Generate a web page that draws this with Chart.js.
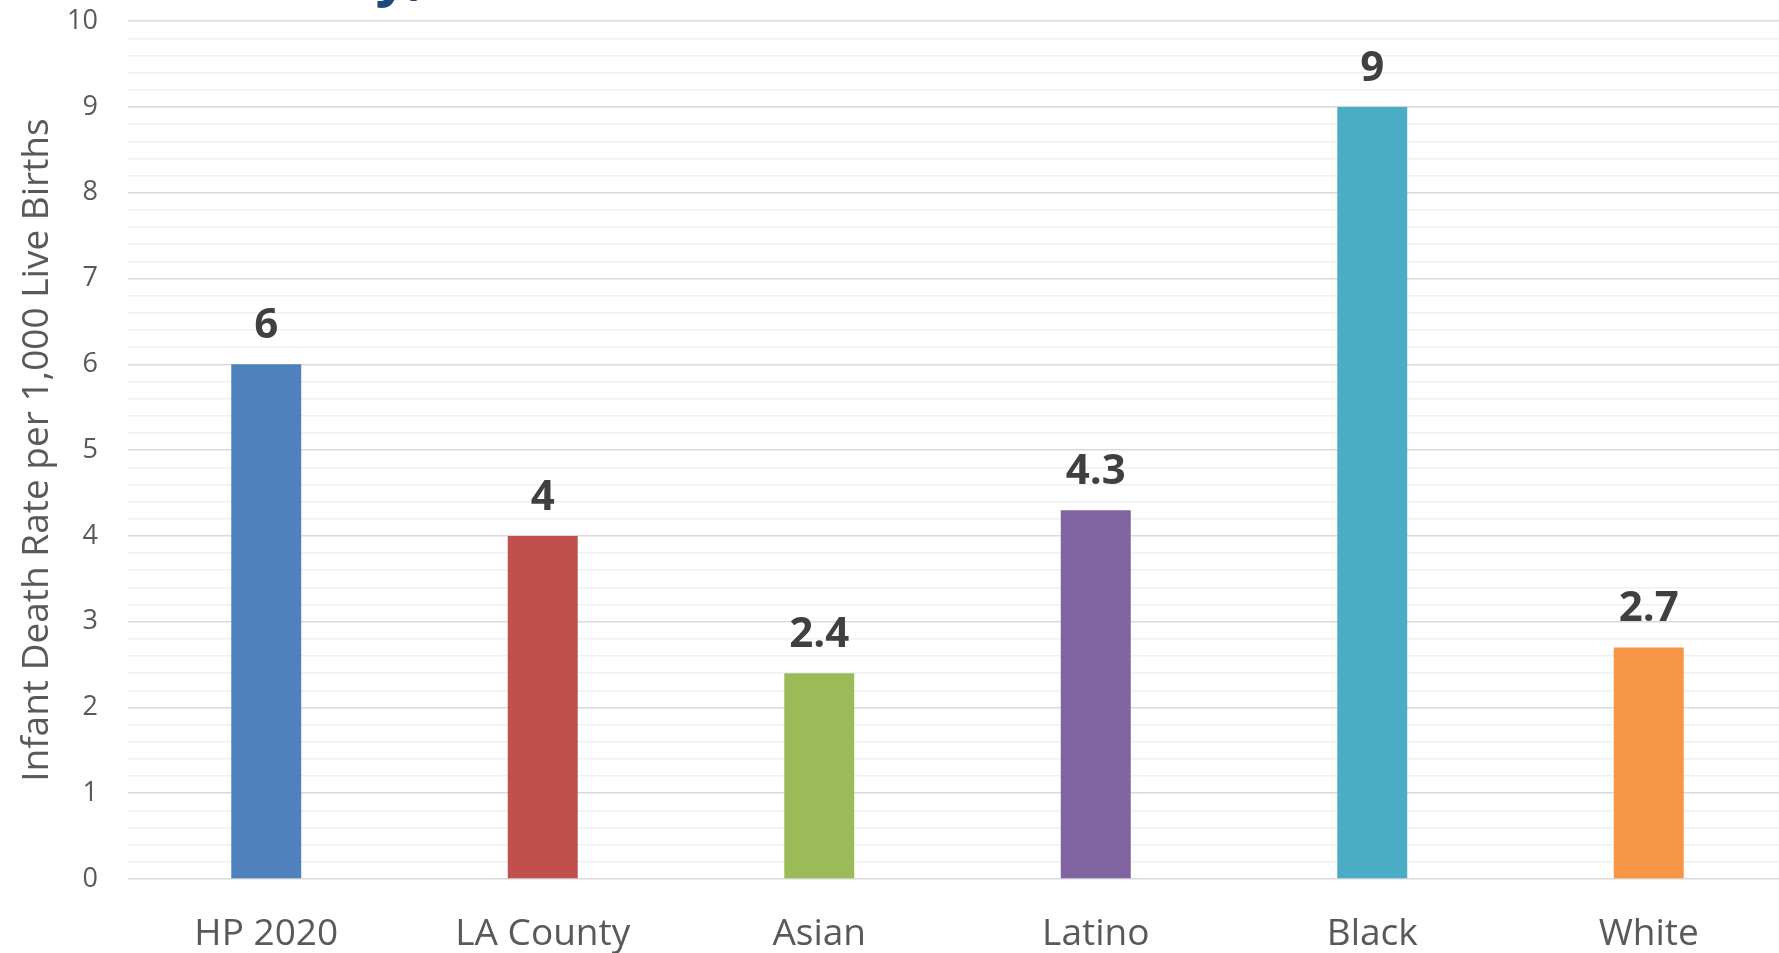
<!DOCTYPE html>
<html>
<head>
<meta charset="utf-8">
<script src="https://cdn.jsdelivr.net/npm/chart.js@4/dist/chart.umd.min.js"></script>
<style>
  html, body { margin: 0; padding: 0; background: #fff; overflow: hidden; }
  #wrap { position: relative; width: 1779px; height: 953px; overflow: hidden; }
  #heading {
    position: absolute; left: -600px; top: -57px; width: 1025px; text-align: right;
    font: bold 58px "Open Sans", sans-serif; line-height: 1; color: #1F497D; white-space: nowrap;
  }
  #rateChart { position: absolute; left: 0; top: -25px; }
</style>
</head>
<body>
<div id="wrap">
  <canvas id="rateChart" width="1787" height="978"></canvas>
  <div id="heading">Infant Mortality,</div>
</div>
<script>
const groups = ["HP 2020", "LA County", "Asian", "Latino", "Black", "White"];
const rates = [6, 4, 2.4, 4.3, 9, 2.7];
const barColors = ["#4F81BD", "#C0504D", "#9BBB59", "#8064A2", "#4BACC6", "#F79646"];
const yMin = 0;
const yMax = 10;
const yStep = 0.2;

const isWhole = (v) => Math.abs(v - Math.round(v)) < 1e-6;

// value printed above each bar
const barValues = {
  id: "barValues",
  afterDatasetsDraw(chart) {
    const ctx = chart.ctx;
    const meta = chart.getDatasetMeta(0);
    ctx.save();
    ctx.font = 'bold 42px "Open Sans", sans-serif';
    ctx.fillStyle = "#404040";
    ctx.textAlign = "center";
    ctx.textBaseline = "alphabetic";
    meta.data.forEach((bar, i) => {
      ctx.fillText(String(rates[i]), bar.x, bar.y - 26);
    });
    ctx.restore();
  },
};

const rateCtx = document.getElementById("rateChart").getContext("2d");
const rateChart = new Chart(rateCtx, {
  type: "bar",
  data: {
    labels: groups,
    datasets: [
      {
        data: rates,
        backgroundColor: barColors,
        barPercentage: 0.253,
        categoryPercentage: 1,
      },
    ],
  },
  options: {
    responsive: false,
    animation: false,
    layout: { padding: { top: 18, left: 0, right: 0, bottom: 0 } },
    plugins: {
      legend: { display: false },
      tooltip: { enabled: false },
    },
    scales: {
      x: {
        grid: { display: false },
        border: { display: false },
        ticks: {
          color: "#595959",
          font: { family: "Open Sans", size: 37 },
          padding: 25,
          maxRotation: 0,
        },
        afterFit(scale) { scale.height = 74; },
      },
      y: {
        min: yMin,
        max: yMax,
        border: { display: false },
        grid: {
          drawTicks: false,
          lineWidth: 1.5,
          color: (c) => (isWhole(c.tick.value) ? "#d9d9d9" : "#f0f0f0"),
        },
        ticks: {
          stepSize: yStep,
          autoSkip: false,
          color: "#595959",
          font: { family: "Open Sans", size: 27 },
          padding: 30,
          callback: (v) => (isWhole(v) ? String(Math.round(v)) : ""),
        },
        title: {
          display: true,
          text: "Infant Death Rate per 1,000 Live Births",
          color: "#595959",
          font: { family: "Open Sans", size: 37 },
          padding: { top: 15, bottom: 0 },
        },
        afterFit(scale) { scale.width = 128; },
      },
    },
  },
  plugins: [barValues],
});
</script>
</body>
</html>
